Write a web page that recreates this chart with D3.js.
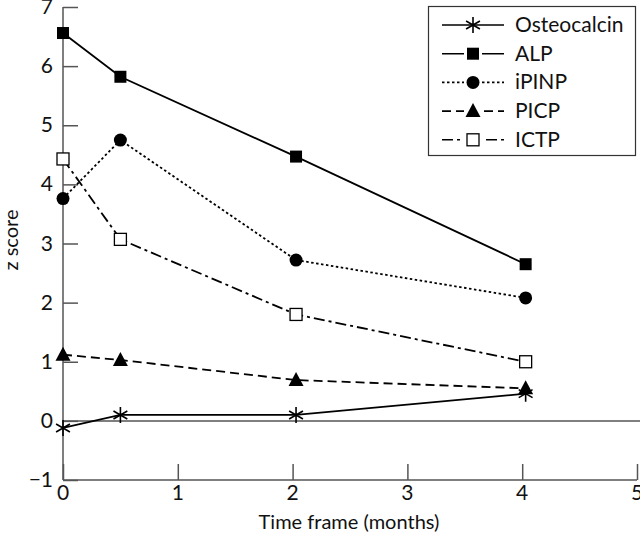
<!DOCTYPE html>
<html>
<head>
<meta charset="utf-8">
<script src="https://cdn.jsdelivr.net/npm/d3@7"></script>
<style>
  body { margin: 0; background: #fff; }
  text { font-family: Lato, "Liberation Sans", sans-serif; fill: #111; }
</style>
</head>
<body>
<svg id="chart" width="640" height="538"></svg>
<script>
// time points (months)
var times = [0, 0.5, 2.03, 4.03];

var osteocalcin = [-0.12, 0.1, 0.1, 0.46];
var alp = [6.56, 5.82, 4.47, 2.65];
var ipinp = [3.76, 4.75, 2.72, 2.08];
var picp = [1.12, 1.03, 0.69, 0.55];
var ictp = [4.43, 3.07, 1.8, 1.0];

var seriesNames = ["Osteocalcin", "ALP", "iPINP", "PICP", "ICTP"];
var xTicks = [0, 1, 2, 3, 4, 5];
var yTicks = [-1, 0, 1, 2, 3, 4, 5, 6, 7];

var svg = d3.select("#chart");

var x = d3.scaleLinear().domain([0, 5]).range([63, 637]);
var y = d3.scaleLinear().domain([-1, 7]).range([480, 7]);

var axisColor = "#555";

// zero line
svg.append("line")
  .attr("x1", x(0)).attr("x2", 640)
  .attr("y1", y(0)).attr("y2", y(0))
  .attr("stroke", axisColor).attr("stroke-width", 1.5);

// y axis, ticks point inward
var yAxis = svg.append("g")
  .attr("transform", "translate(" + x(0) + ",0)")
  .call(d3.axisRight(y).tickValues(yTicks).tickSize(15).tickFormat(""));
yAxis.select(".domain").attr("d", "M0," + y(7) + "V" + y(-1));
yAxis.selectAll("path,line").attr("stroke", axisColor).attr("stroke-width", 1.5);

svg.append("g").selectAll("text")
  .data(yTicks)
  .enter().append("text")
    .attr("x", 53)
    .attr("y", function(d) { return y(d) + 7; })
    .attr("text-anchor", "end")
    .style("font-size", "21px")
    .text(function(d) { return d < 0 ? "\u2212" + Math.abs(d) : d; });

// x axis, ticks point up
var xAxis = svg.append("g")
  .attr("transform", "translate(0," + y(-1) + ")")
  .call(d3.axisTop(x).tickValues(xTicks).tickSize(16).tickFormat(""));
xAxis.select(".domain").attr("d", "M" + x(0) + ",0H" + x(5));
xAxis.selectAll("path,line").attr("stroke", axisColor).attr("stroke-width", 1.5);

svg.append("g").selectAll("text")
  .data(xTicks)
  .enter().append("text")
    .attr("x", function(d) { return x(d); })
    .attr("y", 500)
    .attr("text-anchor", "middle")
    .style("font-size", "21px")
    .text(function(d) { return d; });

svg.append("text")
  .attr("x", 349).attr("y", 529)
  .attr("text-anchor", "middle")
  .style("font-size", "20px")
  .text("Time frame (months)");

svg.append("text")
  .attr("transform", "translate(18,240) rotate(-90)")
  .attr("text-anchor", "middle")
  .style("font-size", "20px")
  .text("z score");

// marker paths
function star(s) {
  var r = s, a = r * Math.cos(Math.PI / 6), b = r * Math.sin(Math.PI / 6);
  return "M0," + (-r) + "V" + r +
    "M" + (-a) + "," + (-b) + "L" + a + "," + b +
    "M" + (-a) + "," + b + "L" + a + "," + (-b);
}
var markers = {
  Osteocalcin: function(g) { g.append("path").attr("d", star(8)).attr("stroke", "#000").attr("stroke-width", 1.6).attr("fill", "none"); },
  ALP: function(g) { g.append("rect").attr("x", -6).attr("y", -6).attr("width", 12).attr("height", 12).attr("fill", "#000"); },
  iPINP: function(g) { g.append("circle").attr("r", 6.5).attr("fill", "#000"); },
  PICP: function(g) { g.append("path").attr("d", "M0,-8L7.5,6L-7.5,6Z").attr("fill", "#000"); },
  ICTP: function(g) { g.append("rect").attr("x", -6).attr("y", -6).attr("width", 12).attr("height", 12).attr("fill", "#fff").attr("stroke", "#000").attr("stroke-width", 1.3); }
};
var dashes = {
  Osteocalcin: null,
  ALP: null,
  iPINP: "2.5,2.5",
  PICP: "9,5",
  ICTP: "11,4,3,4"
};

var allValues = [osteocalcin, alp, ipinp, picp, ictp];
var line = d3.line()
  .x(function(d) { return x(d[0]); })
  .y(function(d) { return y(d[1]); });

var drawOrder = [4, 3, 2, 1, 0];
drawOrder.forEach(function(i) {
  var name = seriesNames[i];
  var pts = times.map(function(t, j) { return [t, allValues[i][j]]; });
  svg.append("path")
    .datum(pts)
    .attr("d", line)
    .attr("fill", "none")
    .attr("stroke", "#000")
    .attr("stroke-width", 1.8)
    .attr("stroke-dasharray", dashes[name]);
  pts.forEach(function(p) {
    var g = svg.append("g").attr("transform", "translate(" + x(p[0]) + "," + y(p[1]) + ")");
    markers[name](g);
  });
});

// legend
var legend = svg.append("g");
legend.append("rect")
  .attr("x", 428.5).attr("y", 6.5)
  .attr("width", 207).attr("height", 149)
  .attr("fill", "#fff").attr("stroke", "#333").attr("stroke-width", 1.2);

seriesNames.forEach(function(name, i) {
  var ly = 25 + i * 28.7;
  var g = legend.append("g");
  g.append("line")
    .attr("x1", 442).attr("x2", 504)
    .attr("y1", ly).attr("y2", ly)
    .attr("stroke", "#000").attr("stroke-width", 1.6)
    .attr("stroke-dasharray", dashes[name]);
  var m = g.append("g").attr("transform", "translate(473," + ly + ")");
  if (name !== "Osteocalcin") {
    m.insert("rect").attr("x", -9).attr("y", -8).attr("width", 18).attr("height", 16).attr("fill", "#fff");
  }
  markers[name](m);
  g.append("text")
    .attr("x", 515).attr("y", ly + 7)
    .style("font-size", "21px")
    .text(name);
});
</script>
</body>
</html>
